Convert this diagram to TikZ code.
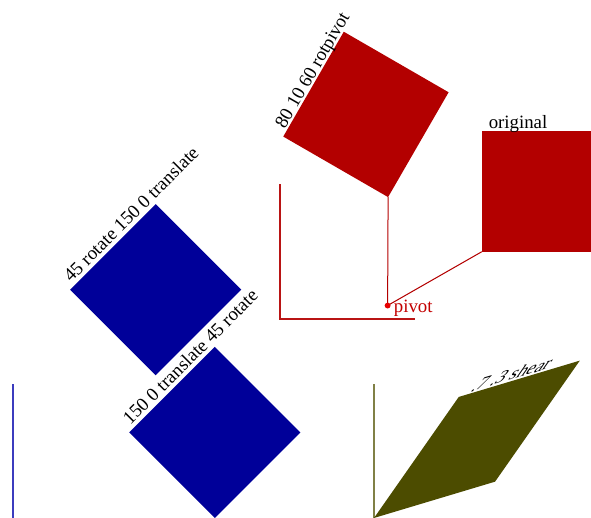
\documentclass[tikz,border=0pt]{standalone}
\usepackage{fontspec}
\setmainfont{Liberation Serif}
\definecolor{dred}{RGB}{179,0,0}
\definecolor{dblue}{RGB}{0,0,153}
\definecolor{dolive}{RGB}{76,76,0}
\definecolor{axred}{RGB}{185,20,20}
\definecolor{axblue}{RGB}{60,60,190}
\definecolor{axolive}{RGB}{128,128,70}
\definecolor{pivred}{RGB}{230,0,0}
\definecolor{pivtext}{RGB}{195,0,0}
\begin{document}
\begin{tikzpicture}[x=1pt,y=1pt,
  lbl/.style={anchor=base west, inner sep=0pt, font=\fontsize{14}{16}\selectfont},
  axisline/.style={line width=1.1pt},
  pivline/.style={draw=dred, line width=1pt}]
\useasboundingbox (0,0) rectangle (591,518);
\clip (0,0) rectangle (591,518);
% red system
\begin{scope}[shift={(280,199)}, scale=1.345, transform shape]
  \draw[axisline, axred] (0,100) coordinate (ry) -- (0,0) coordinate (ro) -- (100,0) coordinate (rx);
  \fill[dred] (150,50) coordinate (orig) rectangle (240,140);
  \node[lbl] (origlbl) at (155,141.7) {original};
  \begin{scope}[rotate around={60:(80,10)}]
    \fill[dred] (150,50) coordinate (rotc) rectangle (240,140);
    \node[lbl] (rotlbl) at (155,141.7) {80 10 60 rotpivot};
  \end{scope}
  \coordinate (pv) at (80,10);
  \draw[pivline] (pv) -- (orig);
  \draw[pivline] (pv) -- (rotc);
  \fill[pivred] (pv) circle (2.2);
  \node[lbl, text=pivtext] (pivlbl) at (84.5,4.5) {pivot};
\end{scope}
% blue system
\begin{scope}[shift={(13,-1)}, scale=1.345]
  \draw[axisline, axblue] (0,100) coordinate (by) -- (0,0) coordinate (bo) -- (100,0) coordinate (bx);
\end{scope}
\begin{scope}[shift={(155.66,142.66)}, scale=1.345, rotate=45, transform shape]
  \fill[dblue] (0,0) rectangle (90,90);
  \node[lbl] (blbl1) at (4,93) {45 rotate 150 0 translate};
\end{scope}
\begin{scope}[shift={(214.75,0)}, scale=1.345, rotate=45, transform shape]
  \fill[dblue] (0,0) rectangle (90,90);
  \node[lbl] (blbl2) at (4,93) {150 0 translate 45 rotate};
\end{scope}
% olive system
\begin{scope}[shift={(374,-1)}, scale=1.345]
  \draw[axisline, axolive] (0,100) coordinate (oy) -- (0,0) coordinate (oo) -- (100,0) coordinate (ox);
\end{scope}
\begin{scope}[shift={(374,0)}, scale=1.345]
  \begin{scope}[cm={1,0.3,0.7,1,(0,0)}, transform shape]
    \fill[dolive] (0,0) rectangle (90,90);
    \node[lbl] (olbl) at (7,91.5) {.7 .3 shear};
  \end{scope}
\end{scope}
\end{tikzpicture}
\end{document}
